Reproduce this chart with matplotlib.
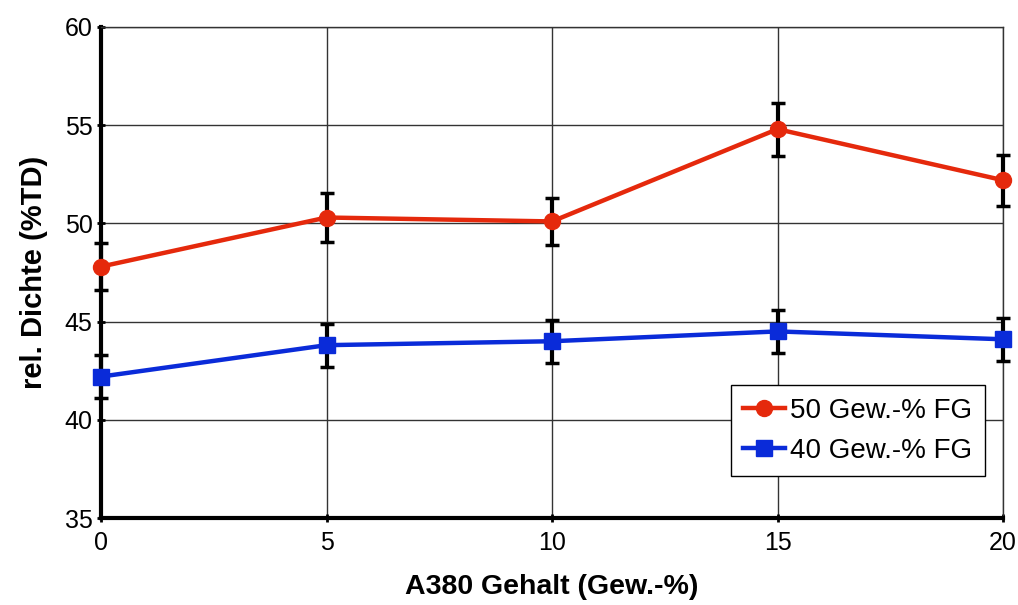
import matplotlib
matplotlib.use("Agg")
import matplotlib.pyplot as plt

x = [0, 5, 10, 15, 20]
red_y = [47.8, 50.3, 50.1, 54.8, 52.2]
red_err = [1.2, 1.25, 1.2, 1.35, 1.3]
blue_y = [42.2, 43.8, 44.0, 44.5, 44.1]
blue_err = [1.1, 1.1, 1.1, 1.1, 1.1]
labels = ["50 Gew.-% FG", "40 Gew.-% FG"]
xticks = [0, 5, 10, 15, 20]
yticks = [35, 40, 45, 50, 55, 60]

plt.rcParams['font.family'] = ['Liberation Sans', 'DejaVu Sans']

fig = plt.figure(figsize=(10.18, 6.05), dpi=100)
ax = fig.add_axes([101/1018, 1-518/605, (1003-101)/1018, (518-27)/605])

red = '#E5290C'
blue = '#0A2BD9'

ax.errorbar(x, red_y, yerr=red_err, fmt='none', ecolor='black', elinewidth=3,
            capsize=5, capthick=2.5, zorder=3, clip_on=False)
ax.errorbar(x, blue_y, yerr=blue_err, fmt='none', ecolor='black', elinewidth=3,
            capsize=5, capthick=2.5, zorder=3, clip_on=False)
ax.plot(x, red_y, color=red, lw=3.2, marker='o', ms=11.5, label=labels[0], zorder=4, clip_on=False)
ax.plot(x, blue_y, color=blue, lw=3.2, marker='s', ms=11, label=labels[1], zorder=4, clip_on=False)

ax.set_xlim(0, 20)
ax.set_ylim(35, 60)
ax.set_xticks(xticks)
ax.set_yticks(yticks)
ax.grid(True, color='#333333', lw=1)
ax.set_axisbelow(True)

for s in ['left', 'bottom']:
    ax.spines[s].set_linewidth(3)
for s in ['top', 'right']:
    ax.spines[s].set_linewidth(1)
    ax.spines[s].set_color('#333333')

ax.tick_params(axis='both', labelsize=18, width=2, length=6, direction='inout')
ax.tick_params(axis='y', pad=3)
ax.tick_params(axis='x', pad=6)
ax.set_xlabel("A380 Gehalt (Gew.-%)", fontsize=20.5, fontweight='bold', labelpad=14)
ax.set_ylabel("rel. Dichte (%TD)", fontsize=21, fontweight='bold', labelpad=12)

leg = ax.legend(loc='lower right', bbox_to_anchor=(985/1018, 1-476/605),
                bbox_transform=fig.transFigure, fontsize=20, fancybox=False,
                edgecolor='black', framealpha=1, borderpad=0.45, handlelength=1.5,
                handletextpad=0.2, labelspacing=0.5, borderaxespad=0)
leg.get_frame().set_linewidth(1)

fig.savefig("out.png", dpi=100)
